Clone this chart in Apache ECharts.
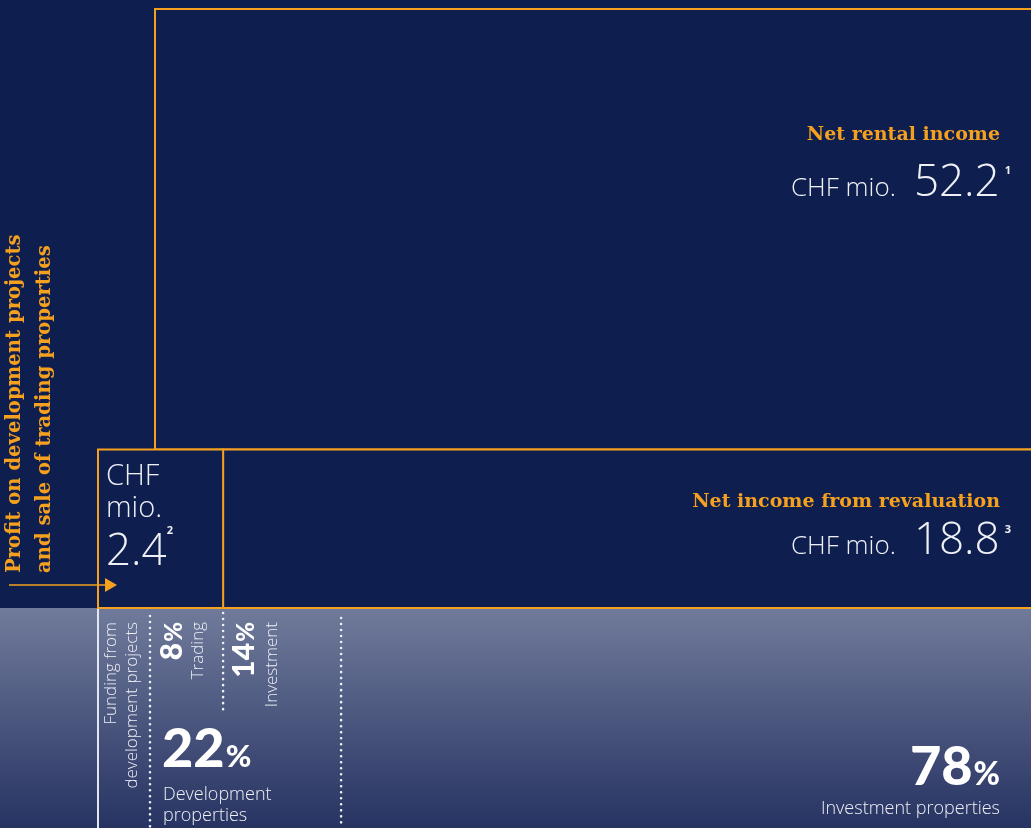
<!DOCTYPE html>
<html><head><meta charset="utf-8">
<style>html,body{margin:0;padding:0;background:#0e1e4e;overflow:hidden}#c{width:1031px;height:828px}</style>
<script src="https://cdn.jsdelivr.net/npm/echarts@6/dist/echarts.min.js"></script>
</head><body><div id="c"></div>
<script>
// ---- Data ----
// Income blocks, CHF mio.
const blockNames = ['Net rental income', 'Net income from revaluation', 'Profit on development projects\nand sale of trading properties'];
const blockValues = [52.2, 18.8, 2.4];
const blockNotes = ['1', '3', '2'];
const blockUnit = 'CHF mio.';
// Funding split, %
const fundingNames = ['Development\nproperties', 'Investment properties'];
const fundingShares = [22, 78];
const devSubNames = ['Trading', 'Investment'];
const devSubShares = [8, 14];
const fundingNote = 'Funding from\ndevelopment projects';

// ---- Style ----
const ORANGE = '#f5a11f';
const NAVY = '#0e1e4e';
const WHITE = '#eef0f6';
const LIGHT = '"Open Sans", Lato, sans-serif';
const SLAB = '"DejaVu Serif", serif';
const HEAVY = 'Lato, "Open Sans", sans-serif';

const bottomRowTotal = blockValues[1] + blockValues[2];
const profitShare = 100 * blockValues[2] / bottomRowTotal;

const chart = echarts.init(document.getElementById('c'), null, {renderer: 'canvas', width: 1031, height: 828});

function valueText(x, y, value, note, numSize, unitSize, align) {
  return {
    type: 'text', x: x, y: y,
    style: {
      text: '{a|' + blockUnit + '}{b|' + value.toFixed(1) + '}{s|' + note + '}',
      align: align, verticalAlign: 'bottom',
      rich: {
        a: {font: '300 ' + unitSize + 'px ' + LIGHT, fill: WHITE, lineHeight: 56, verticalAlign: 'bottom', padding: [0, 18, 4, 0]},
        b: {font: '300 ' + numSize + 'px ' + LIGHT, fill: WHITE, lineHeight: 56, verticalAlign: 'bottom'},
        s: {font: 'bold 11px ' + LIGHT, fill: WHITE, lineHeight: 56, verticalAlign: 'top', padding: [16, 0, 0, 5]}
      }
    }
  };
}

function renderBlock(params, api) {
  const i = params.dataIndex;
  const base = api.coord([0, 0]);
  const top = api.coord([100, blockValues[0] + blockValues[1]]);
  const mid = api.coord([profitShare, blockValues[1]]);
  const right = top[0];
  const textRight = api.getWidth() - 31;
  const rectStyle = {fill: NAVY, stroke: ORANGE, lineWidth: 2};
  const ch = [];
  if (i === 0) {
    const x0 = base[0] + 57, y0 = top[1];
    ch.push({type: 'rect', shape: {x: x0, y: y0, width: right - x0, height: mid[1] - y0}, style: rectStyle});
    ch.push({type: 'text', x: textRight, y: y0 + 136, style: {text: blockNames[0], font: 'bold 19px ' + SLAB, fill: ORANGE, align: 'right', verticalAlign: 'bottom'}});
    ch.push(valueText(textRight + 11, y0 + 196.5, blockValues[0], blockNotes[0], 44, 26, 'right'));
  } else if (i === 1) {
    const x0 = mid[0], y0 = mid[1];
    ch.push({type: 'rect', shape: {x: x0, y: y0, width: right - x0, height: base[1] - y0}, style: rectStyle});
    ch.push({type: 'text', x: textRight, y: y0 + 62, style: {text: blockNames[1], font: 'bold 19px ' + SLAB, fill: ORANGE, align: 'right', verticalAlign: 'bottom'}});
    ch.push(valueText(textRight + 11, y0 + 114.5, blockValues[1], blockNotes[1], 44, 26, 'right'));
  } else {
    const x0 = base[0], y0 = mid[1], y1 = base[1];
    ch.push({type: 'rect', shape: {x: x0, y: y0, width: mid[0] - x0, height: y1 - y0}, style: rectStyle});
    const parts = blockUnit.split(' ');
    ch.push({type: 'text', x: x0 + 8, y: y0 + 42, style: {text: parts[0], font: '300 29px ' + LIGHT, fill: WHITE, align: 'left', verticalAlign: 'bottom'}});
    ch.push({type: 'text', x: x0 + 8, y: y0 + 74, style: {text: parts[1], font: '300 29px ' + LIGHT, fill: WHITE, align: 'left', verticalAlign: 'bottom'}});
    ch.push({type: 'text', x: x0 + 8, y: y0 + 125.5, style: {
      text: '{b|' + blockValues[2].toFixed(1) + '}{s|' + blockNotes[2] + '}', align: 'left', verticalAlign: 'bottom',
      rich: {
        b: {font: '300 44px ' + LIGHT, fill: WHITE, lineHeight: 56, verticalAlign: 'bottom'},
        s: {font: 'bold 11px ' + LIGHT, fill: WHITE, lineHeight: 56, verticalAlign: 'top', padding: [6, 0, 0, 0]}
      }}});
    // rotated orange caption + arrow pointing into the block
    ch.push({type: 'text', x: x0 - 68, y: y1 - 35, rotation: Math.PI / 2, style: {
      text: blockNames[2], font: 'bold 19.6px ' + SLAB, fill: ORANGE, align: 'left', verticalAlign: 'middle', lineHeight: 30}});
    ch.push({type: 'line', shape: {x1: x0 - 89, y1: y1 - 23, x2: x0 + 10, y2: y1 - 23}, style: {stroke: ORANGE, lineWidth: 1.5}});
    ch.push({type: 'polygon', shape: {points: [[x0 + 7, y1 - 30], [x0 + 19, y1 - 23], [x0 + 7, y1 - 16]]}, style: {fill: ORANGE}});
  }
  return {type: 'group', children: ch};
}

function dotted(x, y1, y2) {
  return {type: 'line', shape: {x1: x, y1: y1, x2: x, y2: y2}, style: {stroke: WHITE, lineWidth: 2.6, lineDash: [0.01, 6], lineCap: 'round'}};
}
function rotText(x, y, text, font, lh) {
  return {type: 'text', x: x, y: y, rotation: Math.PI / 2, style: {text: text, font: font, fill: WHITE, align: 'right', verticalAlign: 'middle', lineHeight: lh || 20}};
}
function pctRich(value, n, p, align) {
  return {
    text: '{n|' + value + '}{p|%}', align: align, verticalAlign: 'bottom',
    rich: {
      n: {font: '900 ' + n + 'px ' + HEAVY, fill: '#ffffff', lineHeight: n, verticalAlign: 'bottom'},
      p: {font: '900 ' + p + 'px ' + HEAVY, fill: '#ffffff', lineHeight: n, verticalAlign: 'bottom', padding: [0, 0, (n - p) * 0.2, 1]}
    }
  };
}

function renderBand(params, api) {
  const base = api.coord([0, 0]);
  const x0 = base[0], yb = base[1];
  const Wc = api.getWidth(), Hc = api.getHeight();
  const fundEnd = x0 + 52;
  const split = api.coord([profitShare, 0])[0];
  const devEnd = api.coord([fundingShares[0], 0])[0];
  const ch = [];
  ch.push({type: 'rect', shape: {x: 0, y: yb, width: Wc, height: Hc - yb}, style: {
    fill: new echarts.graphic.LinearGradient(0, 0, 0, 1, [{offset: 0, color: '#707b9b'}, {offset: 1, color: '#273362'}])}});
  ch.push({type: 'line', shape: {x1: x0, y1: yb, x2: x0, y2: Hc}, style: {stroke: '#e2e6f0', lineWidth: 2}});
  ch.push(dotted(fundEnd, yb + 8, Hc));
  ch.push(dotted(split, yb + 5, yb + 104));
  ch.push(dotted(devEnd, yb + 10, Hc));
  ch.push(rotText(x0 + 24, yb + 14, fundingNote, '300 17px ' + LIGHT, 21));
  ch.push({type: 'text', x: fundEnd + 22, y: yb + 14, rotation: Math.PI / 2, style: Object.assign(pctRich(devSubShares[0], 30, 24, 'right'), {verticalAlign: 'middle'})});
  ch.push(rotText(fundEnd + 48, yb + 14, devSubNames[0], '300 17px ' + LIGHT));
  ch.push({type: 'text', x: split + 21, y: yb + 14, rotation: Math.PI / 2, style: Object.assign(pctRich(devSubShares[1], 30, 24, 'right'), {verticalAlign: 'middle'})});
  ch.push(rotText(split + 49, yb + 14, devSubNames[1], '300 17px ' + LIGHT));
  ch.push({type: 'text', x: fundEnd + 12, y: yb + 169, style: pctRich(fundingShares[0], 54, 31, 'left')});
  ch.push({type: 'text', x: fundEnd + 13, y: yb + 218, style: {text: fundingNames[0], font: '300 18px ' + LIGHT, fill: WHITE, align: 'left', verticalAlign: 'bottom', lineHeight: 21}});
  ch.push({type: 'text', x: Wc - 31, y: yb + 187, style: pctRich(fundingShares[1], 54, 32, 'right')});
  ch.push({type: 'text', x: Wc - 31, y: yb + 210, style: {text: fundingNames[1], font: '300 18px ' + LIGHT, fill: WHITE, align: 'right', verticalAlign: 'bottom'}});
  return {type: 'group', children: ch};
}

chart.setOption({
  backgroundColor: NAVY,
  animation: false,
  grid: {left: 98, top: 9, width: 1105, height: 599, containLabel: false, outerBoundsMode: 'none'},
  xAxis: {type: 'value', min: 0, max: 100, show: false},
  yAxis: {type: 'value', min: 0, max: blockValues[0] + blockValues[1], show: false},
  series: [
    {type: 'custom', renderItem: renderBand, data: [[0, 0]], z: 1, clip: false, silent: true},
    {type: 'custom', renderItem: renderBlock, data: blockValues.map((v, i) => [i, v]), z: 2, clip: false, silent: true}
  ]
});
</script>
</body></html>
